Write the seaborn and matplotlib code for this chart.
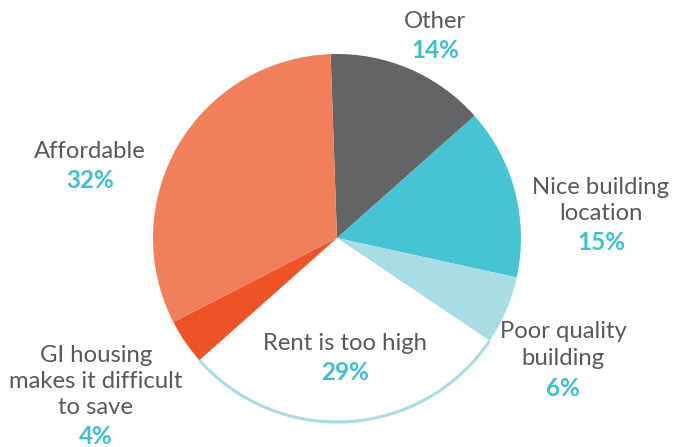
import matplotlib
matplotlib.use("Agg")
import matplotlib.pyplot as plt
from matplotlib.patches import Arc
import seaborn as sns

categories = ["Other", "Nice building\nlocation", "Poor quality\nbuilding",
              "Rent is too high", "GI housing\nmakes it difficult\nto save", "Affordable"]
shares = [14, 15, 6, 29, 4, 32]
pct_labels = ["14%", "15%", "6%", "29%", "4%", "32%"]
colors = ["#636466", "#47C4D3", "#A8DDE5", "#FFFFFF", "#EE5327", "#F27F5B"]

sns.set_theme(style="white")
plt.rcParams["font.family"] = ["Lato", "DejaVu Sans"]

W, H = 673, 447
fig = plt.figure(figsize=(W / 100, H / 100), dpi=100)
ax = fig.add_axes([0, 0, 1, 1])

cx, cy, r = 337, H - 238, 184
wedges, _ = ax.pie(shares, colors=colors, startangle=92, counterclock=False,
                   center=(cx, cy), radius=r, frame=True,
                   wedgeprops=dict(linewidth=0, edgecolor="none"))
ax.set_xlim(0, W)
ax.set_ylim(0, H)
ax.set_aspect("equal")
ax.axis("off")

# outline only the outer rim of the white slice
rent = wedges[3]
ax.add_patch(Arc((cx, cy), 2 * r, 2 * r, theta1=rent.theta1, theta2=rent.theta2,
                 color="#A8DDE5", lw=2.2, zorder=3))

text_grey = "#58595B"
pct_cyan = "#3FC0D0"
# (x, y of label top line, y of percentage) in pixel space
label_pos = [
    (435, 22, 50),
    (601, 187, 243),
    (563, 332, 388),
    (345, 343, 372),
    (96, 355, 437),
    (90, 152, 181),
]
line_h = 26.5
for name, pct, (x, y0, yp) in zip(categories, pct_labels, label_pos):
    for i, line in enumerate(name.split("\n")):
        ax.text(x, H - (y0 + i * line_h), line, ha="center", va="center",
                fontsize=17.2, color=text_grey, zorder=5)
    ax.text(x, H - yp, pct, ha="center", va="center", fontsize=17.5,
            fontweight="bold", color=pct_cyan, zorder=5)

fig.savefig("out.png", dpi=100)
